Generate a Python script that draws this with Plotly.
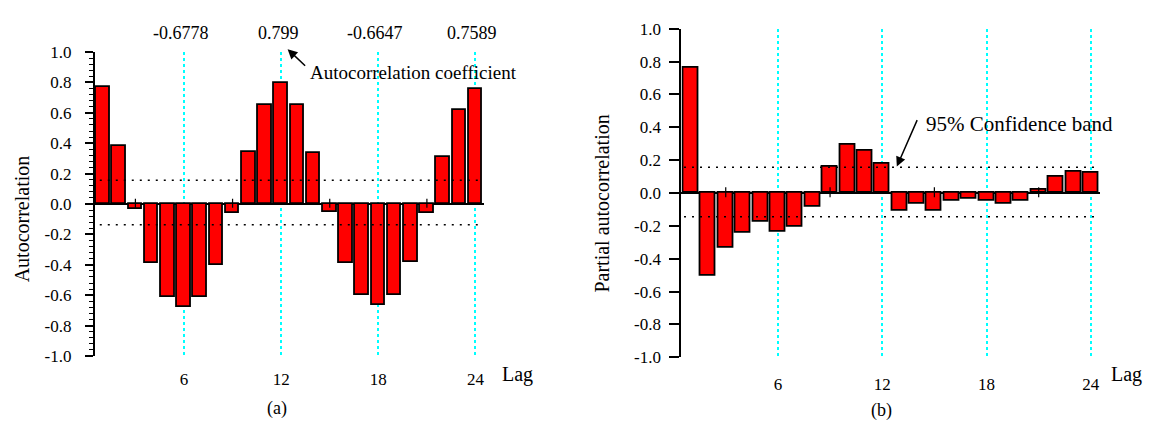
import plotly.graph_objects as go

# ---------------- data ----------------
lags = list(range(1, 25))
acf = [0.77, 0.38, -0.03, -0.39, -0.61, -0.6778, -0.61, -0.40, -0.06, 0.34, 0.65, 0.799,
       0.65, 0.335, -0.05, -0.39, -0.60, -0.6647, -0.60, -0.38, -0.06, 0.31, 0.62, 0.7589]
pacf = [0.763, -0.502, -0.333, -0.242, -0.174, -0.233, -0.207, -0.085, 0.157, 0.291, 0.256, 0.179,
        -0.106, -0.068, -0.106, -0.048, -0.037, -0.048, -0.068, -0.048, 0.021, 0.099, 0.132, 0.122]
acf_band = [0.157, -0.136]
pacf_band = [0.157, -0.145]
peak_lags = [6, 12, 18, 24]
peak_labels = ["-0.6778", "0.799", "-0.6647", "0.7589"]
major_lags = [6, 12, 18, 24]
minor_lags = [3, 9, 15, 21]
ytick_vals = [round(-1 + 0.2 * i, 1) for i in range(11)]
ytick_text = ["%.1f" % v for v in ytick_vals]

FONT = "Liberation Serif"
W, H = 1149, 432

fig = go.Figure()

bar_style = dict(marker=dict(color="#FF0000", line=dict(color="black", width=1.8)), showlegend=False, hoverinfo="skip")
fig.add_trace(go.Bar(x=lags, y=acf, width=0.84, xaxis="x", yaxis="y", **bar_style))
fig.add_trace(go.Bar(x=lags, y=pacf, width=0.86, xaxis="x2", yaxis="y2", **bar_style))

band_line = dict(color="black", width=1.5, dash="2px,6px")
for b in acf_band:
    fig.add_trace(go.Scatter(x=[0.8, 24.3], y=[b, b], mode="lines", line=band_line,
                             xaxis="x", yaxis="y", showlegend=False, hoverinfo="skip"))
for b in pacf_band:
    fig.add_trace(go.Scatter(x=[0.6, 24.4], y=[b, b], mode="lines", line=band_line,
                             xaxis="x2", yaxis="y2", showlegend=False, hoverinfo="skip"))

# small crossing ticks on the zero line
shapes = []
for xa, ya in (("x", "y"), ("x2", "y2")):
    for m in minor_lags:
        shapes.append(dict(type="line", xref=xa, yref=ya, x0=m, x1=m, y0=-0.025, y1=0.035,
                           line=dict(color="black", width=1.2), layer="above"))

xcommon = dict(showline=False, zeroline=False, showgrid=True, gridcolor="#00FFFF", gridwidth=2,
               griddash="dot", tickvals=major_lags, ticks="",
               tickfont=dict(family=FONT, size=17, color="black"), fixedrange=True)
ycommon = dict(range=[-1, 1], showline=True, linecolor="black", linewidth=2, showgrid=False,
               zeroline=True, zerolinecolor="black", zerolinewidth=2,
               tickvals=ytick_vals, ticktext=ytick_text, ticks="outside", tickcolor="black",
               tickwidth=1.5, tickfont=dict(family=FONT, size=17, color="black"), fixedrange=True)

fig.update_layout(
    width=W, height=H, margin=dict(l=0, r=0, t=0, b=0),
    paper_bgcolor="white", plot_bgcolor="white", bargap=0,
    xaxis=dict(domain=[95 / W, 484 / W], range=[0.5, 24.5], anchor="y", ticklabelstandoff=11, **xcommon),
    yaxis=dict(domain=[(H - 363) / H, (H - 45) / H], anchor="x", ticklen=8, ticklabelstandoff=10,
               minor=dict(dtick=0.04, tick0=0, ticks="outside", ticklen=4, tickcolor="black", tickwidth=1.2),
               **ycommon),
    xaxis2=dict(domain=[682 / W, 1100.5 / W], range=[0.45, 24.5], anchor="y2", ticklabelstandoff=15, **xcommon),
    yaxis2=dict(domain=[(H - 364.3) / H, (H - 20.7) / H], anchor="x2", ticklen=10, ticklabelstandoff=5,
                **ycommon),
    shapes=shapes,
    font=dict(family=FONT, color="black"),
)

ann = []
# peak value labels
for lg, lab in zip(peak_lags, peak_labels):
    ann.append(dict(x=lg, y=(H - 25) / H, xref="x", yref="paper", text=lab, showarrow=False,
                    xshift=-3, font=dict(family=FONT, size=18), xanchor="center", yanchor="middle"))
# arrow + text left
ann.append(dict(x=12.4, y=(H - 42) / H, xref="x", yref="paper", text="", showarrow=True, ax=19, ay=18,
                arrowhead=2, arrowsize=1.3, arrowwidth=1.5, arrowcolor="black"))
ann.append(dict(x=13.65, y=0.868, xref="x", yref="y", text="Autocorrelation coefficient",
                showarrow=False, xanchor="left", yanchor="middle", font=dict(family=FONT, size=19)))
# arrow + text right
ann.append(dict(x=12.84, y=0.161, xref="x2", yref="y2", text="", showarrow=True, ax=21, ay=-48,
                arrowhead=2, arrowsize=1.3, arrowwidth=1.5, arrowcolor="black"))
ann.append(dict(x=14.39, y=0.423, xref="x2", yref="y2", text="95% Confidence band",
                showarrow=False, xanchor="left", yanchor="middle", font=dict(family=FONT, size=21)))
# axis titles
ann.append(dict(x=22 / W, y=(H - 219) / H, xref="paper", yref="paper", text="Autocorrelation",
                textangle=-90, showarrow=False, xanchor="center", yanchor="middle",
                font=dict(family=FONT, size=20)))
ann.append(dict(x=603 / W, y=(H - 203) / H, xref="paper", yref="paper", text="Partial autocorrelation",
                textangle=-90, showarrow=False, xanchor="center", yanchor="middle",
                font=dict(family=FONT, size=20)))
# Lag labels
ann.append(dict(x=500 / W, y=(H - 382) / H, xref="paper", yref="paper", text="Lag", xanchor="left",
                yanchor="middle", showarrow=False, font=dict(family=FONT, size=20)))
ann.append(dict(x=1110 / W, y=(H - 382) / H, xref="paper", yref="paper", text="Lag", xanchor="left",
                yanchor="middle", showarrow=False, font=dict(family=FONT, size=20)))
# panel labels
ann.append(dict(x=277 / W, y=(H - 418) / H, xref="paper", yref="paper", text="(a)",
                xanchor="center", yanchor="middle", showarrow=False, font=dict(family=FONT, size=18)))
ann.append(dict(x=882 / W, y=(H - 420) / H, xref="paper", yref="paper", text="(b)",
                xanchor="center", yanchor="middle", showarrow=False, font=dict(family=FONT, size=18)))
fig.update_layout(annotations=ann)

fig.write_html("out.html")
